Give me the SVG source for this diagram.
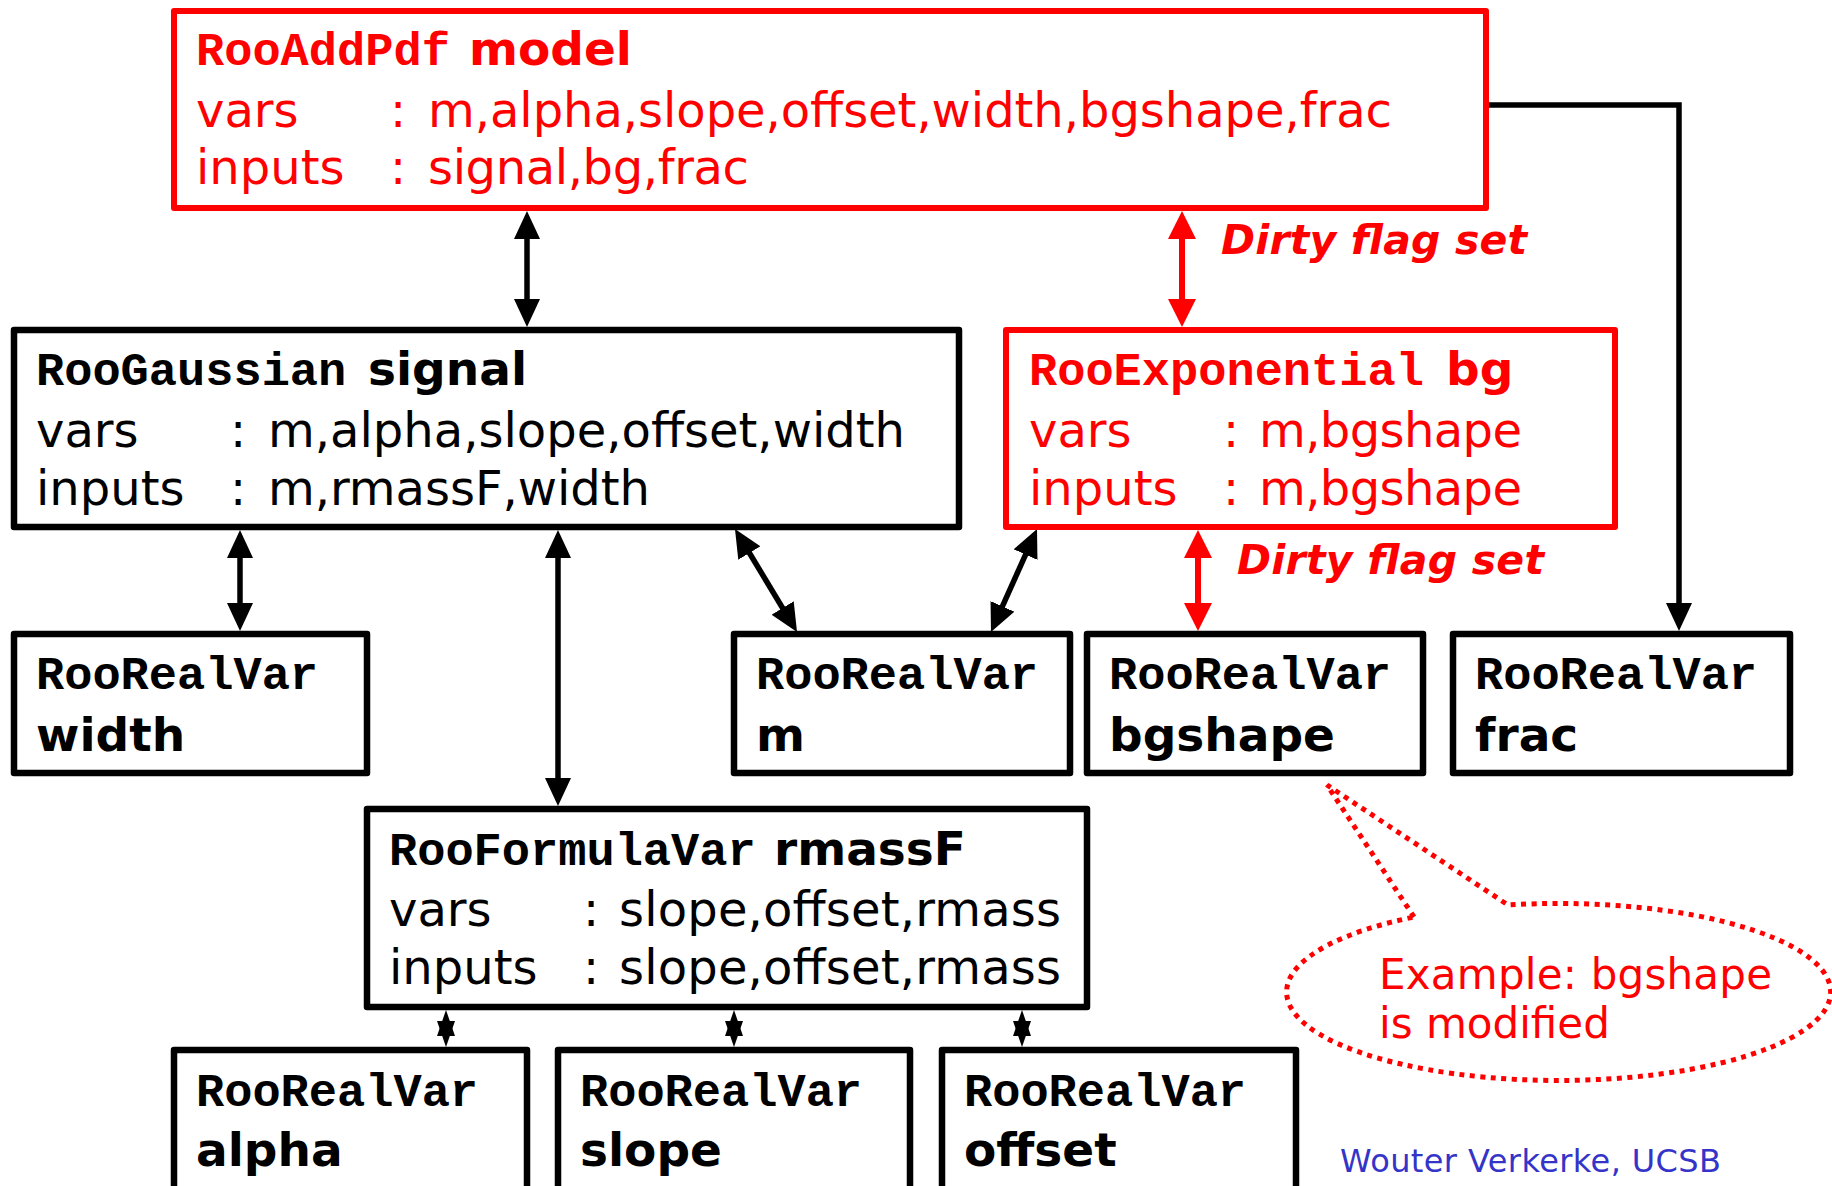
<svg xmlns="http://www.w3.org/2000/svg" width="1832" height="1186" viewBox="0 0 1832 1186">
  <style>
    .box { fill: #fff; stroke: #000; stroke-width: 6.5; stroke-linejoin: round; }
    .rbox { fill: #fff; stroke: #f00; stroke-width: 6; stroke-linejoin: round; }
    .mono { font-family: "Liberation Mono", "Courier New", monospace; font-weight: bold; font-size: 47px; }
    .name { font-family: "DejaVu Sans", "Liberation Sans", sans-serif; font-weight: bold; font-size: 47px; }
    .body { font-family: "DejaVu Sans", "Liberation Sans", sans-serif; font-size: 48px; }
    .flag { font-family: "DejaVu Sans", "Liberation Sans", sans-serif; font-weight: bold; font-style: italic; font-size: 41px; fill: #f00; }
    .note { font-family: "DejaVu Sans", "Liberation Sans", sans-serif; font-size: 42px; fill: #f00; }
    .credit { font-family: "DejaVu Sans", "Liberation Sans", sans-serif; font-size: 32px; fill: #3434c8; }
    .k { fill: #000; }
    .r { fill: #f00; }
    .link { fill: none; stroke: #000; stroke-width: 5.5; }
    .rlink { fill: none; stroke: #f00; stroke-width: 6; }
  </style>
  <defs>
    <marker id="ah" viewBox="0 0 28 26" refX="14" refY="13" markerWidth="28" markerHeight="26" markerUnits="userSpaceOnUse" orient="auto-start-reverse">
      <path d="M0,0 L28,13 L0,26 z" fill="#000"/>
    </marker>
    <marker id="ahs" viewBox="0 0 26 18" refX="12" refY="9" markerWidth="26" markerHeight="18" markerUnits="userSpaceOnUse" orient="auto-start-reverse">
      <path d="M0,0 L26,9 L0,18 z" fill="#000"/>
    </marker>
    <marker id="ahr" viewBox="0 0 28 28" refX="14" refY="14" markerWidth="28" markerHeight="28" markerUnits="userSpaceOnUse" orient="auto-start-reverse">
      <path d="M0,0 L28,14 L0,28 z" fill="#f00"/>
    </marker>
  </defs>

  <rect width="1832" height="1186" fill="#fff"/>

  <!-- dependency links -->
  <g id="connectors">
    <line class="link" x1="527" y1="225" x2="527" y2="313" marker-start="url(#ah)" marker-end="url(#ah)"/>
    <line class="rlink" x1="1182" y1="225" x2="1182" y2="313" marker-start="url(#ahr)" marker-end="url(#ahr)"/>
    <polyline class="link" points="1486,105 1679,105 1679,617" marker-end="url(#ah)"/>
    <line class="link" x1="240" y1="544" x2="240" y2="617" marker-start="url(#ah)" marker-end="url(#ah)"/>
    <line class="link" x1="558" y1="544" x2="558" y2="792" marker-start="url(#ah)" marker-end="url(#ah)"/>
    <line class="link" x1="742.2" y1="541" x2="789.8" y2="620" marker-start="url(#ah)" marker-end="url(#ah)"/>
    <line class="link" x1="1031.3" y1="541.8" x2="996.7" y2="619.2" marker-start="url(#ah)" marker-end="url(#ah)"/>
    <line class="rlink" x1="1198" y1="544" x2="1198" y2="617" marker-start="url(#ahr)" marker-end="url(#ahr)"/>
    <line class="link" x1="446" y1="1024" x2="446" y2="1033" marker-start="url(#ahs)" marker-end="url(#ahs)"/>
    <line class="link" x1="734" y1="1024" x2="734" y2="1033" marker-start="url(#ahs)" marker-end="url(#ahs)"/>
    <line class="link" x1="1022" y1="1024" x2="1022" y2="1033" marker-start="url(#ahs)" marker-end="url(#ahs)"/>
  </g>

  <g id="model">
    <rect class="rbox" x="174" y="11" width="1312" height="197"/>
    <text class="mono r" x="196" y="65">RooAddPdf</text>
    <text class="name r" x="469" y="65">model</text>
    <text class="body r" x="196" y="127">vars</text>
    <text class="body r" x="390" y="127">:</text>
    <text class="body r" x="428" y="127" textLength="964">m,alpha,slope,offset,width,bgshape,frac</text>
    <text class="body r" x="196" y="184">inputs</text>
    <text class="body r" x="390" y="184">:</text>
    <text class="body r" x="428" y="184" textLength="321">signal,bg,frac</text>
  </g>

  <g id="signal">
    <rect class="box" x="14" y="330" width="945" height="197"/>
    <text class="mono k" x="36" y="385">RooGaussian</text>
    <text class="name k" x="368" y="385">signal</text>
    <text class="body k" x="36" y="447">vars</text>
    <text class="body k" x="230" y="447">:</text>
    <text class="body k" x="268" y="447" textLength="637">m,alpha,slope,offset,width</text>
    <text class="body k" x="36" y="505">inputs</text>
    <text class="body k" x="230" y="505">:</text>
    <text class="body k" x="268" y="505" textLength="382">m,rmassF,width</text>
  </g>

  <g id="bg">
    <rect class="rbox" x="1006" y="330" width="609" height="197"/>
    <text class="mono r" x="1029" y="385">RooExponential</text>
    <text class="name r" x="1446" y="385">bg</text>
    <text class="body r" x="1029" y="447">vars</text>
    <text class="body r" x="1223" y="447">:</text>
    <text class="body r" x="1259" y="447" textLength="263">m,bgshape</text>
    <text class="body r" x="1029" y="505">inputs</text>
    <text class="body r" x="1223" y="505">:</text>
    <text class="body r" x="1259" y="505" textLength="263">m,bgshape</text>
  </g>

  <text class="flag" x="1221" y="254" textLength="306">Dirty flag set</text>
  <text class="flag" x="1237" y="574" textLength="307">Dirty flag set</text>

  <g id="width">
    <rect class="box" x="14" y="634" width="353" height="139"/>
    <text class="mono k" x="36" y="689">RooRealVar</text>
    <text class="name k" x="36" y="751">width</text>
  </g>

  <g id="m">
    <rect class="box" x="734" y="634" width="336" height="139"/>
    <text class="mono k" x="756" y="689">RooRealVar</text>
    <text class="name k" x="756" y="751">m</text>
  </g>

  <g id="bgshape">
    <rect class="box" x="1087" y="634" width="336" height="139"/>
    <text class="mono k" x="1109" y="689">RooRealVar</text>
    <text class="name k" x="1109" y="751">bgshape</text>
  </g>

  <g id="frac">
    <rect class="box" x="1453" y="634" width="337" height="139"/>
    <text class="mono k" x="1475" y="689">RooRealVar</text>
    <text class="name k" x="1475" y="751">frac</text>
  </g>

  <g id="rmassF">
    <rect class="box" x="367" y="809" width="720" height="198"/>
    <text class="mono k" x="389" y="865">RooFormulaVar</text>
    <text class="name k" x="774" y="865">rmassF</text>
    <text class="body k" x="389" y="926">vars</text>
    <text class="body k" x="583" y="926">:</text>
    <text class="body k" x="619" y="926" textLength="442">slope,offset,rmass</text>
    <text class="body k" x="389" y="984">inputs</text>
    <text class="body k" x="583" y="984">:</text>
    <text class="body k" x="619" y="984" textLength="442">slope,offset,rmass</text>
  </g>

  <g id="alpha">
    <rect class="box" x="174" y="1050" width="353" height="200"/>
    <text class="mono k" x="196" y="1106">RooRealVar</text>
    <text class="name k" x="196" y="1166">alpha</text>
  </g>

  <g id="slope">
    <rect class="box" x="558" y="1050" width="352" height="200"/>
    <text class="mono k" x="580" y="1106">RooRealVar</text>
    <text class="name k" x="580" y="1166">slope</text>
  </g>

  <g id="offset">
    <rect class="box" x="942" y="1050" width="354" height="200"/>
    <text class="mono k" x="964" y="1106">RooRealVar</text>
    <text class="name k" x="964" y="1166">offset</text>
  </g>

  <!-- speech bubble pointing at bgshape -->
  <g id="callout">
    <path d="M1414,917 L1327,785 L1508,905 A272,88.5 0 1 1 1414,917 Z" fill="none" stroke="#f00" stroke-width="5" stroke-dasharray="5 5.5"/>
    <text class="note" x="1379" y="989" textLength="393">Example: bgshape</text>
    <text class="note" x="1379" y="1038">is modified</text>
  </g>

  <text class="credit" x="1340" y="1172" textLength="381">Wouter Verkerke, UCSB</text>
</svg>
